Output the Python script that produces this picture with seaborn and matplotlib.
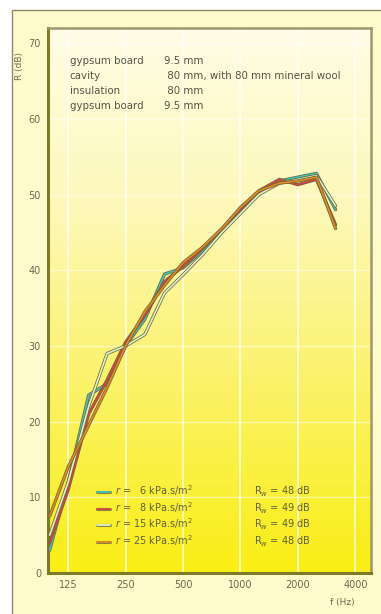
import numpy as np
import pandas as pd
import seaborn as sns
import matplotlib.pyplot as plt
import matplotlib.patheffects as pe
from matplotlib.patches import Rectangle
from matplotlib.lines import Line2D

# third-octave band centre frequencies (Hz)
freqs = [100, 125, 160, 200, 250, 315, 400, 500, 630, 800, 1000, 1250, 1600, 2000, 2500, 3150]

r6 = [3.0, 12.0, 23.5, 25.0, 30.0, 33.5, 39.5, 40.3, 42.5, 45.0, 48.0, 50.0, 51.8, 52.3, 52.8, 48.0]
r8 = [4.0, 11.0, 21.0, 25.5, 30.5, 34.0, 38.5, 40.5, 42.8, 45.5, 48.0, 50.5, 52.0, 51.3, 52.0, 46.0]
r15 = [5.0, 12.0, 22.0, 29.0, 30.0, 31.5, 37.0, 39.4, 42.0, 45.0, 47.5, 50.0, 51.5, 52.0, 52.5, 48.5]
r25 = [7.5, 14.0, 19.5, 24.5, 30.0, 34.5, 38.0, 41.0, 43.0, 45.5, 48.3, 50.5, 51.5, 51.8, 52.3, 45.5]

series_names = ['6', '8', '15', '25']
rw_values = [48, 49, 49, 48]
colors = ['#45c4b4', '#d9453c', '#dff5c8', '#e48a1c']

xticks = [125, 250, 500, 1000, 2000, 4000]
yticks = [0, 10, 20, 30, 40, 50, 60, 70]

layers = [('gypsum board', '9.5 mm'),
          ('cavity', ' 80 mm, with 80 mm mineral wool'),
          ('insulation', ' 80 mm'),
          ('gypsum board', '9.5 mm')]

df = pd.DataFrame({'f': freqs * 4,
                   'R': r6 + r8 + r15 + r25,
                   'r': sum([[n] * len(freqs) for n in series_names], [])})

sns.set_style('white')
plt.rcParams['font.family'] = ['DejaVu Sans']

fig = plt.figure(figsize=(3.81, 6.14), dpi=100)
fig.patch.set_facecolor('white')
fig.add_artist(Rectangle((12 / 381, -0.1), 1.2, 0.1 + 1 - 10 / 614, transform=fig.transFigure,
                         facecolor='#fdfbcc', edgecolor='#8f8a66', lw=1.0, zorder=0))

ax = fig.add_axes([48 / 381, 41 / 614, 323 / 381, 545 / 614])
ax.set_xscale('log')
ax.set_xlim(98, 4830)
ax.set_ylim(0, 72)

# yellow gradient background
grad = np.linspace(0, 1, 256).reshape(-1, 1)
cmap = sns.blend_palette(['#f9ee14', '#fbf266', '#fdf8b8', '#fffde6'], as_cmap=True)
ax.imshow(grad, extent=[0, 1, 0, 1], transform=ax.transAxes, cmap=cmap,
          aspect='auto', origin='lower', zorder=0)

for x in xticks:
    ax.axvline(x, color='white', lw=1.2, alpha=0.8, zorder=1)
for y in yticks[1:]:
    ax.axhline(y, color='white', lw=1.0, alpha=0.5, zorder=1)

sns.lineplot(data=df, x='f', y='R', hue='r', palette=colors, lw=1.2,
             legend=False, ax=ax, zorder=3)
for ln in ax.lines[-4:]:
    ln.set_path_effects([pe.Stroke(linewidth=2.3, foreground='#6e6642'), pe.Normal()])

ax.set_xticks(xticks)
ax.set_xticklabels([str(x) for x in xticks])
ax.minorticks_off()
ax.set_yticks(yticks)
ax.tick_params(labelsize=7, colors='#6b6a50', length=0, pad=5)
ax.set_xlabel('f (Hz)', fontsize=6.5, color='#6b6a50', labelpad=2)
ax.xaxis.set_label_coords(0.91, -0.045)
ax.set_ylabel('R (dB)', fontsize=6.5, color='#6b6a50')
ax.yaxis.set_label_coords(-0.075, 0.93)

for side in ['left', 'bottom']:
    ax.spines[side].set_color('#7d7a2a')
    ax.spines[side].set_linewidth(2.2)
for side in ['top', 'right']:
    ax.spines[side].set_color('#9c9870')
    ax.spines[side].set_linewidth(1.8)

# construction description
for i, (name, thick) in enumerate(layers):
    y = 0.94 - i * 0.028
    ax.text(0.067, y, name, transform=ax.transAxes, fontsize=7.4, color='#555548', va='center')
    ax.text(0.36, y, thick, transform=ax.transAxes, fontsize=7.4, color='#555548', va='center')

handles = [Line2D([], [], color=c, lw=1.3,
                  path_effects=[pe.Stroke(linewidth=2.2, foreground='#8a8040'), pe.Normal()])
           for c in colors]
labels = []
for n, rw in zip(series_names, rw_values):
    num = n if len(n) == 2 else '\u2007' + n
    labels.append('$r$ = ' + num + ' kPa.s/m$^2$' + ' ' * 20 + 'R$_w$ = ' + str(rw) + ' dB')
leg = ax.legend(handles, labels, loc='upper left', bbox_to_anchor=(0.125, 0.18),
                frameon=False, fontsize=7, handlelength=1.3, handletextpad=0.5,
                labelspacing=0.1)
for t in leg.get_texts():
    t.set_color('#606040')

fig.savefig('out.png', dpi=100, facecolor=fig.get_facecolor())
